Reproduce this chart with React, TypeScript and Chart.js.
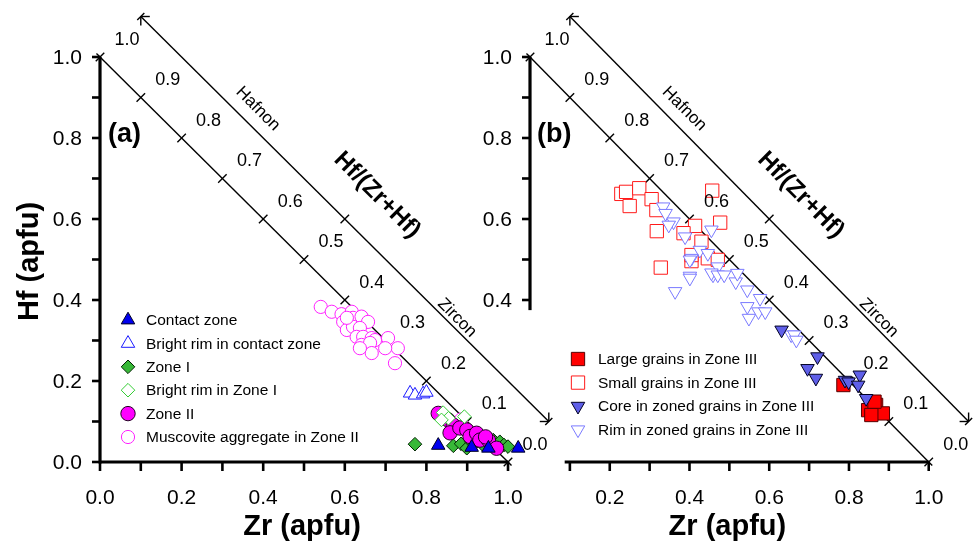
import React, { useEffect, useRef } from 'react';
import { Chart, registerables } from 'chart.js';
Chart.register(...registerables);

// ---------- DATA (Zr apfu, Hf apfu) ----------
const contactZone: number[][] = [[0.829, 0.041], [0.911, 0.036], [0.952, 0.034], [1.025, 0.034]];
const brightRimContact: number[][] = [[0.76, 0.17], [0.772, 0.165], [0.792, 0.168], [0.8, 0.172]];
const zoneI: number[][] = [
  [0.772, 0.044], [0.866, 0.04], [0.885, 0.045], [0.899, 0.034], [0.91, 0.05], [0.923, 0.05],
  [0.939, 0.042], [0.95, 0.048], [0.964, 0.054], [0.98, 0.05], [0.99, 0.042], [1.0, 0.038],
];
const brightRimZoneI: number[][] = [[0.841, 0.122], [0.854, 0.108], [0.837, 0.104], [0.893, 0.112]];
const zoneII: number[][] = [
  [0.829, 0.12], [0.853, 0.104], [0.866, 0.091], [0.858, 0.072], [0.882, 0.084], [0.899, 0.079],
  [0.907, 0.063], [0.923, 0.071], [0.931, 0.054], [0.952, 0.054], [0.972, 0.034], [0.945, 0.062],
];
const muscovite: number[][] = [
  [0.541, 0.383], [0.568, 0.371], [0.592, 0.365], [0.617, 0.371], [0.596, 0.346], [0.62, 0.356],
  [0.641, 0.359], [0.657, 0.346], [0.605, 0.326], [0.62, 0.334], [0.637, 0.331], [0.629, 0.309],
  [0.645, 0.309], [0.666, 0.306], [0.674, 0.301], [0.641, 0.289], [0.662, 0.294], [0.706, 0.306],
  [0.73, 0.281], [0.699, 0.281], [0.666, 0.269], [0.637, 0.281], [0.723, 0.244], [0.605, 0.356],
  [0.885, 0.105],
];

const largeGrains: number[][] = [[0.786, 0.19], [0.848, 0.128], [0.868, 0.141], [0.885, 0.12], [0.856, 0.116], [0.864, 0.149]];
const smallGrains: number[][] = [
  [0.229, 0.662], [0.241, 0.667], [0.274, 0.676], [0.25, 0.632], [0.305, 0.649], [0.317, 0.622],
  [0.318, 0.57], [0.457, 0.67], [0.414, 0.583], [0.43, 0.544], [0.477, 0.591], [0.328, 0.48],
  [0.405, 0.496], [0.385, 0.565], [0.446, 0.503], [0.471, 0.499], [0.405, 0.511],
];
const coreZoned: number[][] = [
  [0.631, 0.326], [0.721, 0.26], [0.696, 0.231], [0.717, 0.207], [0.79, 0.202], [0.799, 0.198],
  [0.827, 0.215], [0.823, 0.19], [0.843, 0.157],
];
const rimZoned: number[][] = [
  [0.334, 0.63], [0.34, 0.614], [0.36, 0.593], [0.348, 0.585], [0.389, 0.556], [0.426, 0.523],
  [0.405, 0.503], [0.446, 0.515], [0.455, 0.573], [0.401, 0.459], [0.459, 0.462], [0.471, 0.482],
  [0.401, 0.499], [0.455, 0.467], [0.471, 0.462], [0.487, 0.462], [0.516, 0.445], [0.52, 0.466],
  [0.401, 0.454], [0.364, 0.421], [0.545, 0.425], [0.577, 0.404], [0.545, 0.384], [0.573, 0.371],
  [0.59, 0.371], [0.549, 0.355], [0.655, 0.314], [0.663, 0.314], [0.668, 0.301],
];

// tick labels
const aXTicks = [0, 0.2, 0.4, 0.6, 0.8, 1.0];
const aYTicks = [0, 0.2, 0.4, 0.6, 0.8, 1.0];
const bXTicks = [0.2, 0.4, 0.6, 0.8, 1.0];
const bYTicks = [0.4, 0.6, 0.8, 1.0];
const ratioTicks = [1.0, 0.9, 0.8, 0.7, 0.6, 0.5, 0.4, 0.3, 0.2, 0.1, 0.0];

const FONT = '"Liberation Sans", Arial, Helvetica, sans-serif';

type Series = {
  label: string; data: number[][]; style: string; r: number; rot: number;
  fill: string; stroke: string; lw: number; order: number;
};

const seriesA: Series[] = [
  { label: 'Contact zone', data: contactZone, style: 'triangle', r: 7.8, rot: 0, fill: '#0000ee', stroke: '#000022', lw: 1, order: 0 },
  { label: 'Bright rim in contact zone', data: brightRimContact, style: 'triangle', r: 7.8, rot: 0, fill: '#ffffff', stroke: '#1a1aff', lw: 1, order: 0 },
  { label: 'Zone I', data: zoneI, style: 'rectRot', r: 6.8, rot: 0, fill: '#38b838', stroke: '#002200', lw: 1, order: 3 },
  { label: 'Bright rim in Zone I', data: brightRimZoneI, style: 'rectRot', r: 6.8, rot: 0, fill: '#ffffff', stroke: '#33cc33', lw: 1, order: 1 },
  { label: 'Zone II', data: zoneII, style: 'circle', r: 7.2, rot: 0, fill: '#ff00ff', stroke: '#220022', lw: 1, order: 2 },
  { label: 'Muscovite aggregate in Zone II', data: muscovite, style: 'circle', r: 6.6, rot: 0, fill: '#ffffff', stroke: '#ff22ff', lw: 1, order: 4 },
];
const seriesB: Series[] = [
  { label: 'Large grains in Zone III', data: largeGrains, style: 'rect', r: 9.4, rot: 0, fill: '#ff0000', stroke: '#550000', lw: 1, order: 2 },
  { label: 'Small grains in Zone III', data: smallGrains, style: 'rect', r: 9.4, rot: 0, fill: '#ffffff', stroke: '#ff1a1a', lw: 1, order: 3 },
  { label: 'Core in zoned grains in Zone III', data: coreZoned, style: 'triangle', r: 7.8, rot: 180, fill: '#5f5fe8', stroke: '#000022', lw: 1, order: 0 },
  { label: 'Rim in zoned grains in Zone III', data: rimZoned, style: 'triangle', r: 7.8, rot: 180, fill: '#ffffff', stroke: '#7a7aff', lw: 1, order: 1 },
];

type Panel = {
  id: string; series: Series[]; left: number; right: number;
  yAxisFrom: number; xAxisFrom: number; xTickFrom: number; yTickFrom: number;
  xLabels: number[]; yLabels: number[]; tag: string; tagX: number;
  legendX: number; legendY: number; legendGap: number; legendTextDx: number;
  showYTitle: boolean;
};

const panelA: Panel = {
  id: 'a', series: seriesA, left: 100, right: 979 - (100 + 1.1 * 408),
  yAxisFrom: 0, xAxisFrom: 0, xTickFrom: 0, yTickFrom: 0,
  xLabels: aXTicks, yLabels: aYTicks, tag: '(a)', tagX: 0.06,
  legendX: 128, legendY: 320, legendGap: 23.4, legendTextDx: 18, showYTitle: true,
};
const panelB: Panel = {
  id: 'b', series: seriesB, left: 530, right: 979 - (530 + 1.1 * 407),
  yAxisFrom: 0.375, xAxisFrom: 0.087, xTickFrom: 0.1, yTickFrom: 0.4,
  xLabels: bXTicks, yLabels: bYTicks, tag: '(b)', tagX: 0.061,
  legendX: 578, legendY: 359, legendGap: 23.6, legendTextDx: 20, showYTitle: false,
};

function markerPath(ctx: CanvasRenderingContext2D, style: string, x: number, y: number, r: number, rotDeg: number) {
  ctx.beginPath();
  let rad = (rotDeg * Math.PI) / 180;
  if (style === 'circle') {
    ctx.arc(x, y, r, 0, Math.PI * 2);
  } else if (style === 'triangle') {
    ctx.moveTo(x + Math.sin(rad) * r, y - Math.cos(rad) * r);
    rad += (2 * Math.PI) / 3;
    ctx.lineTo(x + Math.sin(rad) * r, y - Math.cos(rad) * r);
    rad += (2 * Math.PI) / 3;
    ctx.lineTo(x + Math.sin(rad) * r, y - Math.cos(rad) * r);
    ctx.closePath();
  } else if (style === 'rect') {
    const s = Math.SQRT1_2 * r;
    ctx.rect(x - s, y - s, 2 * s, 2 * s);
  } else {
    ctx.moveTo(x - r, y);
    ctx.lineTo(x, y - r);
    ctx.lineTo(x + r, y);
    ctx.lineTo(x, y + r);
    ctx.closePath();
  }
}

function line(ctx: CanvasRenderingContext2D, x1: number, y1: number, x2: number, y2: number) {
  ctx.beginPath();
  ctx.moveTo(x1, y1);
  ctx.lineTo(x2, y2);
  ctx.stroke();
}

function rotText(ctx: CanvasRenderingContext2D, text: string, x: number, y: number, ang: number, font: string) {
  ctx.save();
  ctx.translate(x, y);
  ctx.rotate(ang);
  ctx.font = font;
  ctx.textAlign = 'center';
  ctx.textBaseline = 'middle';
  ctx.fillText(text, 0, 0);
  ctx.restore();
}

function makeOverlay(p: Panel) {
  return {
    id: 'overlay_' + p.id,
    beforeDatasetsDraw(chart: any) {
      const ctx: CanvasRenderingContext2D = chart.ctx;
      const xs = chart.scales.x, ys = chart.scales.y;
      const X = (v: number) => xs.getPixelForValue(v);
      const Y = (v: number) => ys.getPixelForValue(v);
      ctx.save();
      ctx.strokeStyle = '#000';
      ctx.fillStyle = '#000';
      // axes
      ctx.lineWidth = 3.2;
      line(ctx, X(0), Y(p.yAxisFrom) + (p.yAxisFrom === 0 ? 1.5 : 0), X(0), Y(1));
      line(ctx, X(p.xAxisFrom), Y(0), X(1), Y(0));
      ctx.lineWidth = 2.6;
      for (let k = Math.round(p.yTickFrom * 10); k <= 10; k++) {
        const yy = Y(k / 10);
        line(ctx, X(0) - 8, yy, X(0), yy);
      }
      for (let k = Math.round(p.xTickFrom * 10); k <= 10; k++) {
        const xx = X(k / 10);
        line(ctx, xx, Y(0), xx, Y(0) + 9);
      }
      // diagonal Zr+Hf = 1
      ctx.lineWidth = 1.4;
      line(ctx, X(0), Y(1), X(1), Y(0));
      const s = Math.SQRT1_2;
      for (const f of ratioTicks) {
        const cx = X(1 - f), cy = Y(f);
        line(ctx, cx - 6 * s, cy + 6 * s, cx + 6 * s, cy - 6 * s);
      }
      // end extensions (X marks)
      line(ctx, X(0) - 5 * s, Y(1) - 5 * s, X(0), Y(1));
      line(ctx, X(1), Y(0), X(1) + 5 * s, Y(0) + 5 * s);
      // outer arrow line
      const tx1 = X(0.1), ty1 = Y(1.1), tx2 = X(1.1), ty2 = Y(0.1);
      line(ctx, tx1, ty1, tx2, ty2);
      // arrowheads
      const L = 9;
      line(ctx, tx1, ty1, tx1 + L, ty1);
      line(ctx, tx1, ty1, tx1, ty1 + L);
      line(ctx, tx1 - 5 * s, ty1 + 5 * s, tx1 + 5 * s, ty1 - 5 * s);
      line(ctx, tx2, ty2, tx2 - L, ty2);
      line(ctx, tx2, ty2, tx2, ty2 - L);
      line(ctx, tx2 - 5 * s, ty2 + 5 * s, tx2 + 5 * s, ty2 - 5 * s);
      // mid cross
      const mx = X(0.6), my = Y(0.6);
      line(ctx, mx - 6 * s, my + 6 * s, mx + 6 * s, my - 6 * s);
      ctx.restore();
    },
    afterDraw(chart: any) {
      const ctx: CanvasRenderingContext2D = chart.ctx;
      const xs = chart.scales.x, ys = chart.scales.y;
      const X = (v: number) => xs.getPixelForValue(v);
      const Y = (v: number) => ys.getPixelForValue(v);
      ctx.save();
      ctx.fillStyle = '#000';
      // tick labels
      ctx.font = '21px ' + FONT;
      ctx.textAlign = 'right';
      ctx.textBaseline = 'middle';
      for (const v of p.yLabels) ctx.fillText(v.toFixed(1), X(0) - 18, Y(v) + 1);
      ctx.textAlign = 'center';
      for (const v of p.xLabels) ctx.fillText(v.toFixed(1), X(v), Y(0) + 36);
      // ratio labels
      ctx.font = '18px ' + FONT;
      for (const f of ratioTicks) ctx.fillText(f.toFixed(1), X(1 - f) + 27, Y(f) - 17);
      // line names
      const ang = Math.PI / 4;
      rotText(ctx, 'Hafnon', X(0.387), Y(0.872), ang, '17px ' + FONT);
      rotText(ctx, 'Zircon', X(0.875), Y(0.356), ang, '17px ' + FONT);
      rotText(ctx, 'Hf/(Zr+Hf)', X(0.679), Y(0.659), ang, 'bold 24px ' + FONT);
      // panel tag
      ctx.font = 'bold 27px ' + FONT;
      ctx.textAlign = 'center';
      ctx.fillText(p.tag, X(p.tagX), Y(0.808));
      // axis titles
      ctx.font = 'bold 29px ' + FONT;
      ctx.fillText('Zr (apfu)', X(0.5) - 2, Y(0) + 65);
      if (p.showYTitle) rotText(ctx, 'Hf (apfu)', 30, Y(0.5) + 2, -Math.PI / 2, 'bold 29px ' + FONT);
      // legend
      p.series.forEach((sr, i) => {
        const ly = p.legendY + i * p.legendGap;
        markerPath(ctx, sr.style, p.legendX, ly, sr.r, sr.rot);
        ctx.fillStyle = sr.fill;
        ctx.fill();
        ctx.lineWidth = sr.lw;
        ctx.strokeStyle = sr.stroke;
        ctx.stroke();
        ctx.fillStyle = '#000';
        ctx.font = '15.5px ' + FONT;
        ctx.textAlign = 'left';
        ctx.textBaseline = 'middle';
        ctx.fillText(sr.label, p.legendX + p.legendTextDx, ly + 1);
      });
      ctx.restore();
    },
  };
}

function makeConfig(p: Panel): any {
  return {
    type: 'scatter',
    data: {
      datasets: p.series.map((sr) => ({
        label: sr.label,
        data: sr.data.map(([x, y]) => ({ x, y })),
        pointStyle: sr.style,
        pointRadius: sr.r,
        pointRotation: sr.rot,
        pointBackgroundColor: sr.fill,
        pointBorderColor: sr.stroke,
        pointBorderWidth: sr.lw,
        backgroundColor: sr.fill,
        borderColor: sr.stroke,
        showLine: false,
        order: sr.order,
        clip: false,
      })),
    },
    options: {
      responsive: false,
      animation: false,
      devicePixelRatio: 1,
      events: [],
      layout: { padding: { left: p.left, right: p.right, top: 462 - 1.1 * 405, bottom: 548 - 462 } },
      scales: {
        x: { type: 'linear', min: 0, max: 1.1, display: false },
        y: { type: 'linear', min: 0, max: 1.1, display: false },
      },
      plugins: { legend: { display: false }, tooltip: { enabled: false }, title: { display: false } },
    },
    plugins: [makeOverlay(p)],
  };
}

export default function App() {
  const refA = useRef<HTMLCanvasElement>(null);
  const refB = useRef<HTMLCanvasElement>(null);
  useEffect(() => {
    const a = new Chart(refA.current as HTMLCanvasElement, makeConfig(panelA));
    const b = new Chart(refB.current as HTMLCanvasElement, makeConfig(panelB));
    return () => {
      a.destroy();
      b.destroy();
    };
  }, []);
  const cs: React.CSSProperties = { position: 'absolute', left: 0, top: 0, width: 979, height: 548 };
  return (
    <div style={{ position: 'fixed', left: 0, top: 0, width: 979, height: 548, background: '#fff' }}>
      <canvas ref={refA} width={979} height={548} style={cs} />
      <canvas ref={refB} width={979} height={548} style={cs} />
    </div>
  );
}
